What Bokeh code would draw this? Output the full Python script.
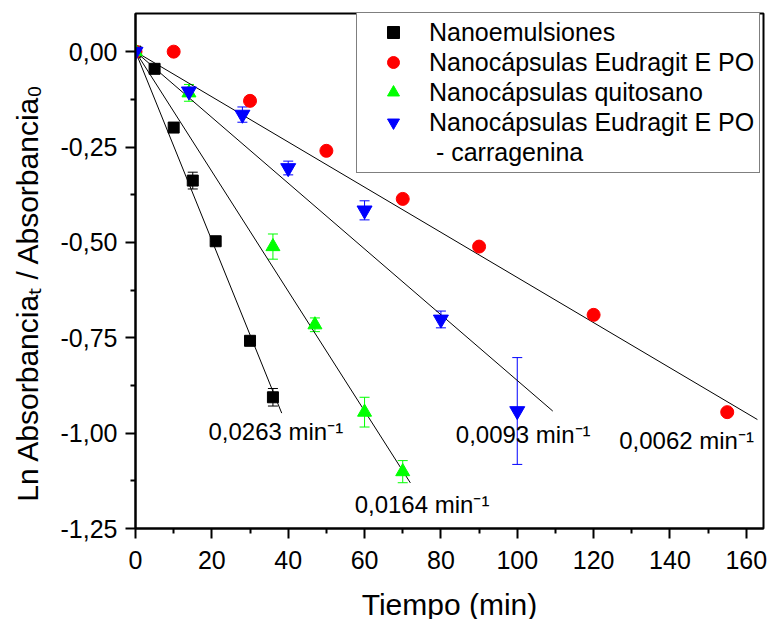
from bokeh.plotting import figure
from bokeh.models import (ColumnDataSource, Whisker, TeeHead, FixedTicker,
                          CustomJSTickFormatter, Legend, LegendItem, Label, Range1d)
from bokeh.embed import file_html
from bokeh.resources import INLINE

FONT = "Liberation Sans"

# ---------------- data ----------------
t_nano = [0, 5, 10, 15, 21, 30, 36]
y_nano = [0.0, -0.045, -0.199, -0.338, -0.497, -0.758, -0.906]
e_nano = [0.0, 0.0, 0.0, 0.022, 0.0, 0.0, 0.023]

t_eud = [0, 10, 30, 50, 70, 90, 120, 155]
y_eud = [0.0, 0.0, -0.129, -0.260, -0.386, -0.511, -0.690, -0.945]
e_eud = [0.0, 0.0, 0.0, 0.0, 0.0, 0.0, 0.0, 0.0]

t_qui = [0, 14, 36, 47, 60, 70]
y_qui = [0.0, -0.108, -0.511, -0.716, -0.945, -1.101]
e_qui = [0.0, 0.022, 0.033, 0.018, 0.039, 0.029]

t_car = [0, 14, 28, 40, 60, 80, 100]
y_car = [0.0, -0.104, -0.165, -0.305, -0.416, -0.702, -0.942]
e_car = [0.0, 0.01, 0.02, 0.018, 0.025, 0.022, 0.14]

series_names = ["Nanoemulsiones", "Nanocápsulas Eudragit E PO",
                "Nanocápsulas quitosano", "Nanocápsulas Eudragit E PO"]
legend_extra = " - carragenina"

# linear fits through the origin (as drawn): slope and end of each line
fit_slope = [-0.02474, -0.00592, -0.0157, -0.00862]
fit_xend = [38.3, 162.9, 72.0, 109.3]
k_labels = ["0,0263 min\u207b\u00b9", "0,0062 min\u207b\u00b9",
            "0,0164 min\u207b\u00b9", "0,0093 min\u207b\u00b9"]

x_ticks = [0, 20, 40, 60, 80, 100, 120, 140, 160]
x_minor = [10, 30, 50, 70, 90, 110, 130, 150]
y_ticks = [-1.25, -1.0, -0.75, -0.5, -0.25, 0.0]
y_minor = [-1.125, -0.875, -0.625, -0.375, -0.125]

# ---------------- figure ----------------
p = figure(output_backend="svg", toolbar_location=None,
           frame_width=628, frame_height=515,
           min_border_left=135, min_border_top=13, min_border_right=4,
           min_border_bottom=90,
           x_range=Range1d(0, 164.5), y_range=Range1d(-1.25, 0.1),
           background_fill_color="white", border_fill_color="white")
p.grid.visible = False
p.outline_line_color = "black"
p.outline_line_width = 2

p.xaxis.ticker = FixedTicker(ticks=x_ticks, minor_ticks=x_minor)
p.yaxis.ticker = FixedTicker(ticks=y_ticks, minor_ticks=y_minor)
p.yaxis.formatter = CustomJSTickFormatter(code="return tick.toFixed(2).replace('.', ',');")

for ax in (p.xaxis[0], p.yaxis[0]):
    ax.axis_line_width = 2
    ax.major_tick_line_width = 2
    ax.minor_tick_line_width = 2
    ax.major_tick_out = 10
    ax.major_tick_in = 0
    ax.minor_tick_out = 5
    ax.minor_tick_in = 0
    ax.major_label_text_font = FONT
    ax.major_label_text_font_size = "25px"
    ax.major_label_text_color = "black"
    ax.axis_label_text_font = FONT
    ax.axis_label_text_font_size = "30px"
    ax.axis_label_text_font_style = "normal"
    ax.axis_label_text_color = "black"

p.xaxis.axis_label = "Tiempo (min)"
p.yaxis.axis_label = "Ln Absorbancia\u209c / Absorbancia\u2080" + "\u00a0" * 5
p.xaxis.major_label_standoff = 12
p.xaxis.axis_label_standoff = 16
p.yaxis.major_label_standoff = 8
p.yaxis.axis_label_standoff = 14

# ---------------- fit lines ----------------
for s, xe in zip(fit_slope, fit_xend):
    p.line([0, xe], [0, s * xe], line_color="black", line_width=1)

# ---------------- series ----------------
styles = [
    dict(marker="square", color="black", size=11),
    dict(marker="circle", color="red", size=13),
    dict(marker="triangle", color="#00ff00", size=14),
    dict(marker="inverted_triangle", color="blue", size=15),
]
data = [(t_nano, y_nano, e_nano), (t_eud, y_eud, e_eud),
        (t_qui, y_qui, e_qui), (t_car, y_car, e_car)]

renderers = []
for (tx, ty, te), st in zip(data, styles):
    src = ColumnDataSource(dict(x=tx, y=ty,
                                lo=[a - b for a, b in zip(ty, te)],
                                hi=[a + b for a, b in zip(ty, te)]))
    if any(v > 0 for v in te):
        w = Whisker(base="x", upper="hi", lower="lo", source=src,
                    line_color=st["color"], line_width=1,
                    upper_head=TeeHead(size=10, line_color=st["color"], line_width=1),
                    lower_head=TeeHead(size=10, line_color=st["color"], line_width=1))
        p.add_layout(w)
    r = p.scatter("x", "y", source=src, marker=st["marker"], size=st["size"],
                  fill_color=st["color"], line_color=st["color"])
    renderers.append(r)

dummy = p.scatter(x=[], y=[], marker="circle", size=1, fill_alpha=0, line_alpha=0)

# ---------------- rate labels ----------------
label_pos = [(19.1, -0.995), (126.7, -1.020), (57.4, -1.188), (83.9, -1.004)]
for (lx, ly), txt in zip(label_pos, k_labels):
    p.add_layout(Label(x=lx, y=ly, text=txt, text_font=FONT,
                       text_font_size="24px", text_baseline="middle",
                       text_align="left", text_color="black"))

# ---------------- legend ----------------
items = [LegendItem(label=n, renderers=[r]) for n, r in zip(series_names, renderers)]
items.append(LegendItem(label=legend_extra, renderers=[dummy]))
legend = Legend(items=items, location=(221, 355), margin=0, padding=5,
                spacing=0, glyph_width=62, glyph_height=30, label_height=30,
                label_standoff=5, label_text_font=FONT, label_text_font_size="25px",
                label_text_color="black", border_line_color="black",
                border_line_width=1.5, background_fill_color="white",
                background_fill_alpha=1.0)
p.add_layout(legend)

open("out.html", "w").write(file_html(p, INLINE))
